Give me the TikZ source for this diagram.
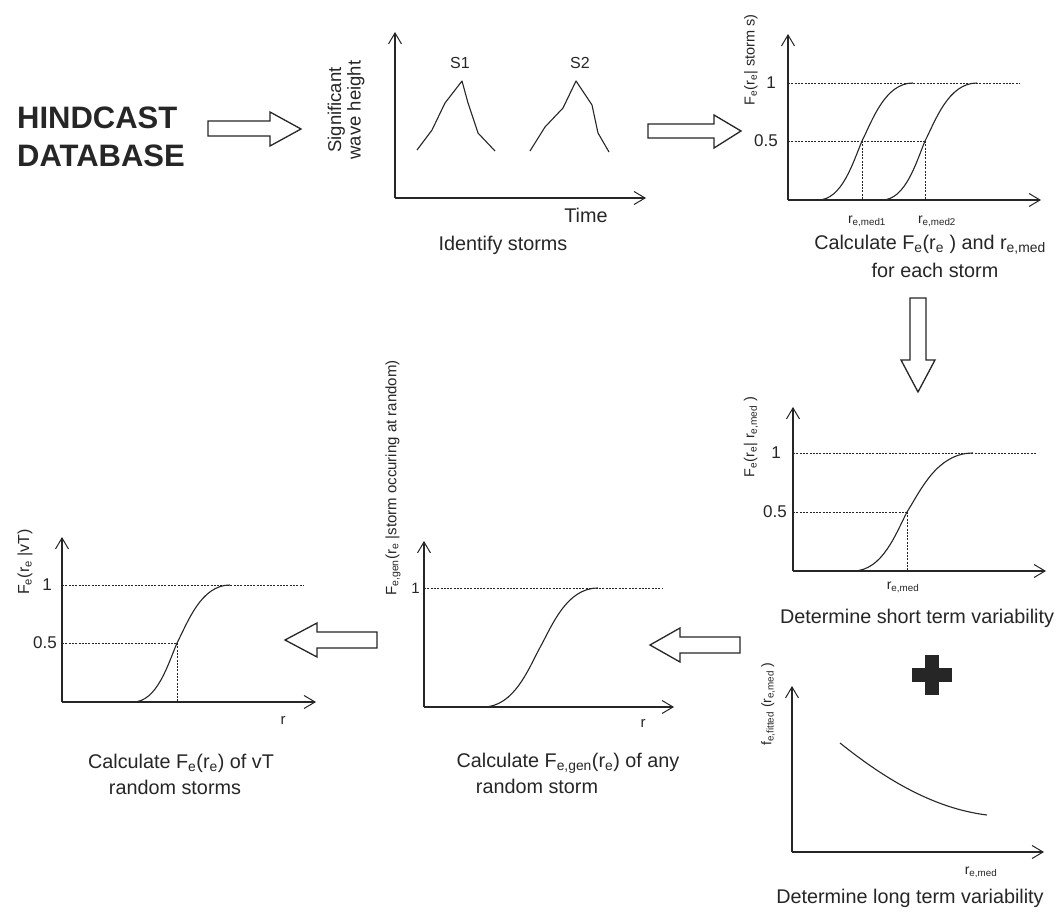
\documentclass[tikz,border=0pt]{standalone}
\usepackage{fontspec}
\setmainfont{Liberation Sans}
\usetikzlibrary{arrows.meta}
\definecolor{ink}{RGB}{38,38,38}
\newcommand{\sub}[1]{\textsubscript{#1}}
\newcommand{\scurveA}[6]{%
 \draw[crv] (#1,#4) .. controls ({#1+0.55*(#2-#1)},#4) and ({#2-0.2*(#2-#1)},{#5+0.35*(#4-#5)}) .. (#2,#5)
  .. controls ({#2+0.2*(#3-#2)},{#5-0.35*(#5-#6)}) and ({#3-0.55*(#3-#2)},#6) .. (#3,#6);}
\tikzset{
 ax/.style={draw=ink,line width=1.1pt,-{Straight Barb[length=11pt,width=13pt,line width=1pt]}},
 guide/.style={draw=ink,line width=0.6pt,dash pattern=on 2pt off 1.3pt},
 crv/.style={draw=ink,line width=1.1pt},
 blk/.style={draw=ink,line width=1.3pt,fill=white,line join=miter},
 captext/.style={text=ink,inner sep=0pt,font=\fontsize{19.8}{23}\selectfont},
 ticktext/.style={text=ink,inner sep=0pt,font=\fontsize{17}{19}\selectfont},
 ylab/.style={text=ink,inner sep=0pt,rotate=90,font=\fontsize{14.5}{17}\selectfont},
 smtext/.style={text=ink,inner sep=0pt,font=\fontsize{14}{16}\selectfont},
}
\begin{document}
\begin{tikzpicture}[x=1pt,y=-1pt]
\useasboundingbox[fill=white] (0,0) rectangle (1061,915);

% ---------- HINDCAST DATABASE ----------
\node[text=ink,inner sep=0pt,anchor=west,align=left,font=\fontsize{31}{38.5}\selectfont\bfseries] (hind) at (17,137) {HINDCAST\\DATABASE};
\draw[blk] (208,121) -- (270,121) -- (270,112) -- (301,129) -- (270,146) -- (270,136) -- (208,136) -- cycle;

% ---------- Chart 1: identify storms ----------
\coordinate (o1) at (395,198);
\coordinate (y1) at (395,32);
\coordinate (x1) at (646,198);
\draw[ax] (o1) -- (y1);
\draw[ax] (o1) -- (x1);
\draw[crv,line join=round] (417,150) -- (432,130) -- (445,103) -- (462,81) -- (468,103) -- (478,133) -- (495,151);
\draw[crv,line join=round] (530,151) -- (545,127) -- (563,108) -- (576,81) -- (592,105) -- (598,133) -- (609,152);
\node[text=ink,inner sep=0pt,font=\fontsize{16}{18}\selectfont] (s1) at (460,63) {S1};
\node[text=ink,inner sep=0pt,font=\fontsize{16}{18}\selectfont] (s2) at (580,63) {S2};
\node[text=ink,inner sep=0pt,rotate=90,align=center,font=\fontsize{18.5}{19.5}\selectfont] (swh) at (346,110) {Significant\\wave height};
\node[captext] (time) at (586,215) {Time};
\node[captext] (c1) at (503,245) {Identify storms};
\draw[blk] (648,124) -- (714,124) -- (714,115) -- (741,131) -- (714,148) -- (714,138) -- (648,138) -- cycle;

% ---------- Chart 2: Fe per storm ----------
\coordinate (o2) at (788,200);
\coordinate (y2) at (788,34);
\coordinate (x2) at (1041,200);
\draw[guide] (788,83) -- (1020,83);
\draw[guide] (788,141) -- (925,141);
\draw[guide] (862,141) -- (862,200);
\draw[guide] (925,141) -- (925,200);
\scurveA{818}{862}{913}{200}{141}{83}
\scurveA{882}{925}{977}{200}{141}{83}
\draw[ax] (o2) -- (y2);
\draw[ax] (o2) -- (x2);
\node[ticktext,anchor=east] (t21) at (776,83) {1};
\node[ticktext,anchor=east] (t22) at (778,141) {0.5};
\node[ylab] (yl2) at (751,60) {F\sub{e}(r\sub{e}| storm s)};
\node[smtext] (rm1) at (867,221) {r\sub{e,med1}};
\node[smtext] (rm2) at (937,221) {r\sub{e,med2}};
\node[captext] (c2a) at (930,245) {Calculate F\sub{e}(r\sub{e} ) and r\sub{e,med}};
\node[captext] (c2b) at (935,270) {for each storm};
\draw[blk] (910,298) -- (926,298) -- (926,360) -- (935,360) -- (918,392) -- (901,360) -- (910,360) -- cycle;

% ---------- Chart 3: short term ----------
\coordinate (o3) at (793,571);
\coordinate (y3) at (793,407);
\coordinate (x3) at (1046,571);
\draw[guide] (793,453) -- (1037,453);
\draw[guide] (793,512) -- (907,512);
\draw[guide] (907,512) -- (907,571);
\scurveA{853}{907}{973}{571}{512}{453}
\draw[ax] (o3) -- (y3);
\draw[ax] (o3) -- (x3);
\node[ticktext,anchor=east] (t31) at (781,453) {1};
\node[ticktext,anchor=east] (t32) at (787,512) {0.5};
\node[ylab] (yl3) at (751,437) {F\sub{e}(r\sub{e}| r\sub{e,med} )};
\node[smtext] (rm3) at (903,587) {r\sub{e,med}};
\node[captext] (c3) at (917,618) {Determine short term variability};

% plus sign
\fill[ink] (912,668) rectangle (952,682);
\fill[ink] (925,655) rectangle (939,695);

% ---------- Chart 4: long term ----------
\coordinate (o4) at (792,852);
\coordinate (y4) at (792,686);
\coordinate (x4) at (1044,852);
\draw[ax] (o4) -- (y4);
\draw[ax] (o4) -- (x4);
\draw[crv] (840,743) .. controls (880,775) and (930,808) .. (987,815);
\node[ylab,font=\fontsize{14}{16}\selectfont] (yl4) at (768,704) {f\sub{e,fitted} (r\sub{e,med} )};
\node[smtext] (rm4) at (981,872) {r\sub{e,med}};
\node[captext] (c4) at (910,898) {Determine long term variability};

% arrow to chart 5
\draw[blk] (740,637) -- (680,637) -- (680,628) -- (650,645) -- (680,662) -- (680,653) -- (740,653) -- cycle;

% ---------- Chart 5: generic storm ----------
\coordinate (o5) at (424,707);
\coordinate (y5) at (424,541);
\coordinate (x5) at (674,707);
\draw[guide] (424,588) -- (663,588);
\scurveA{483}{540}{598}{707}{647.5}{588}
\draw[ax] (o5) -- (y5);
\draw[ax] (o5) -- (x5);
\node[ticktext,anchor=east,font=\fontsize{15}{17}\selectfont] (t51) at (420,588) {1};
\node[ylab,font=\fontsize{15}{17}\selectfont] (yl5) at (393,478) {F\sub{e,gen}(r\sub{e} |storm occuring at random)};
\node[smtext,font=\fontsize{15}{17}\selectfont] (r5) at (643,723) {r};
\node[captext] (c5a) at (568,763) {Calculate F\sub{e,gen}(r\sub{e}) of any};
\node[captext] (c5b) at (537,786) {random storm};

% arrow to chart 6
\draw[blk] (377,632) -- (317,632) -- (317,623) -- (285,640) -- (317,657) -- (317,648) -- (377,648) -- cycle;

% ---------- Chart 6: vT storms ----------
\coordinate (o6) at (62,702);
\coordinate (y6) at (62,537);
\coordinate (x6) at (316,702);
\draw[guide] (62,585) -- (303,585);
\draw[guide] (62,643) -- (177,643);
\draw[guide] (177,643) -- (177,702);
\scurveA{133}{177}{230}{702}{643}{585}
\draw[ax] (o6) -- (y6);
\draw[ax] (o6) -- (x6);
\node[ticktext,anchor=east,font=\fontsize{17}{19}\selectfont] (t61) at (52,585) {1};
\node[ticktext,anchor=east,font=\fontsize{17}{19}\selectfont] (t62) at (57,643) {0.5};
\node[ylab,font=\fontsize{16}{18}\selectfont] (yl6) at (25,562) {F\sub{e}(r\sub{e} |vT)};
\node[smtext,font=\fontsize{15}{17}\selectfont] (r6) at (283,720) {r};
\node[captext] (c6a) at (181,763) {Calculate F\sub{e}(r\sub{e}) of vT};
\node[captext] (c6b) at (175,787) {random storms};
\end{tikzpicture}
\end{document}
